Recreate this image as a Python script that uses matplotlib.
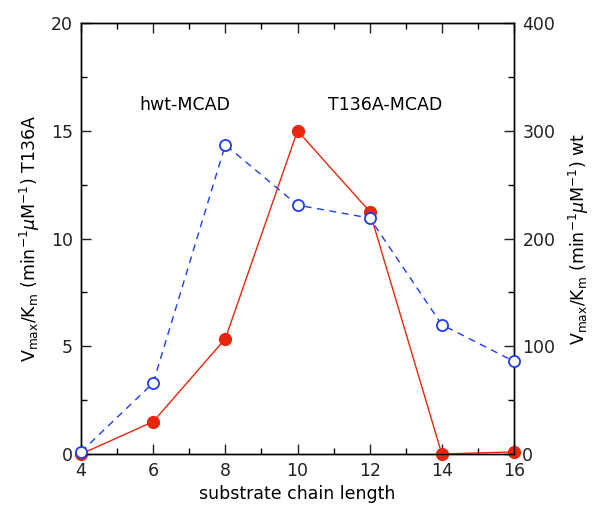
import matplotlib
matplotlib.use("Agg")
import matplotlib.pyplot as plt
from matplotlib.ticker import MultipleLocator

chain_length = [4, 6, 8, 10, 12, 14, 16]
t136a_values = [0.0, 1.5, 5.35, 15.0, 11.25, 0.0, 0.1]
wt_values = [2, 66, 287, 231, 219, 120, 86]

red = '#e8260c'
blue = '#1d3cf2'

fig = plt.figure(figsize=(6.06, 5.15), dpi=100)
ax = fig.add_axes([0.1337, 0.1184, 0.7145, 0.8369])
ax2 = ax.twinx()

ax.plot(chain_length, t136a_values, '-', color=red, lw=1.0, marker='o',
        markersize=8.5, markerfacecolor=red, markeredgecolor=red, clip_on=False, zorder=3)
ax2.plot(chain_length, wt_values, '--', color=blue, lw=1.0, marker='o',
         markersize=8, markerfacecolor='white', markeredgecolor=blue,
         markeredgewidth=1.3, dashes=(5, 4), clip_on=False, zorder=3)

ax.set_xlim(4, 16)
ax.set_ylim(0, 20)
ax2.set_ylim(0, 400)
ax.xaxis.set_major_locator(MultipleLocator(2))
ax.xaxis.set_minor_locator(MultipleLocator(1))
ax.yaxis.set_major_locator(MultipleLocator(5))
ax.yaxis.set_minor_locator(MultipleLocator(2.5))
ax2.yaxis.set_major_locator(MultipleLocator(100))
ax2.yaxis.set_minor_locator(MultipleLocator(50))

for a in (ax, ax2):
    a.tick_params(which='major', direction='in', length=7, width=1, labelsize=12.5, colors='#222222')
    a.tick_params(which='minor', direction='in', length=4, width=1)
    for s in a.spines.values():
        s.set_linewidth(1.0)
ax.tick_params(axis='x', which='both', top=True)
ax.tick_params(axis='y', which='both', right=False)
ax.tick_params(axis='x', pad=6)
ax.tick_params(axis='y', pad=6)
ax2.tick_params(axis='y', pad=6)

ax.set_xlabel('substrate chain length', fontsize=12.5, labelpad=3)
ax.set_ylabel(r'V$_{\rm max}$/K$_{\rm m}$ (min$^{-1}$$\mu$M$^{-1}$) T136A', fontsize=12.5, labelpad=6)
ax2.set_ylabel(r'V$_{\rm max}$/K$_{\rm m}$ (min$^{-1}$$\mu$M$^{-1}$) wt', fontsize=12.5, labelpad=8)

ax.text(6.88, 16.2, 'hwt-MCAD', fontsize=12.5, ha='center', va='center')
ax.text(12.43, 16.2, 'T136A-MCAD', fontsize=12.5, ha='center', va='center')

fig.savefig('out.png', dpi=100)
